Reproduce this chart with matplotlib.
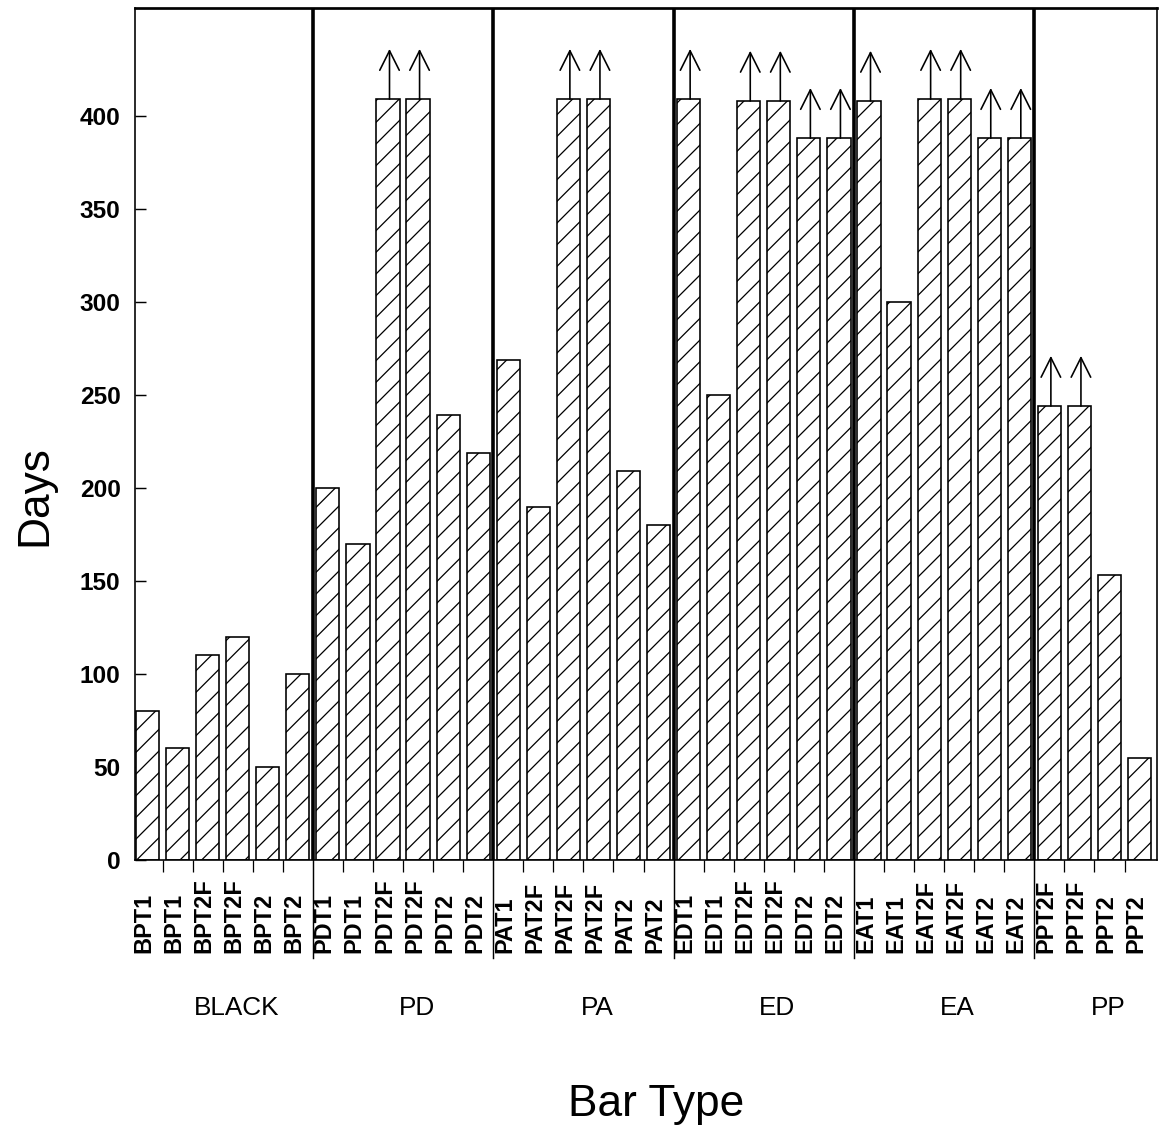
import matplotlib
matplotlib.use("Agg")
from matplotlib import pyplot as plt
from matplotlib import transforms

plt.rcParams['font.family'] = ['Liberation Sans', 'DejaVu Sans']
plt.rcParams['hatch.linewidth'] = 0.7

# data
groups = ['BLACK', 'PD', 'PA', 'ED', 'EA', 'PP']
bar_labels = [
    ['BPT1', 'BPT1', 'BPT2F', 'BPT2F', 'BPT2', 'BPT2'],
    ['PDT1', 'PDT1', 'PDT2F', 'PDT2F', 'PDT2', 'PDT2'],
    ['PAT1', 'PAT2F', 'PAT2F', 'PAT2F', 'PAT2', 'PAT2'],
    ['EDT1', 'EDT1', 'EDT2F', 'EDT2F', 'EDT2', 'EDT2'],
    ['EAT1', 'EAT1', 'EAT2F', 'EAT2F', 'EAT2', 'EAT2'],
    ['PPT2F', 'PPT2F', 'PPT2', 'PPT2'],
]
days = [
    [80, 60, 110, 120, 50, 100],
    [200, 170, 409, 409, 239, 219],
    [269, 190, 409, 409, 209, 180],
    [409, 250, 408, 408, 388, 388],
    [408, 300, 409, 409, 388, 388],
    [244, 244, 153, 55],
]
# 1 = still running at end of test (arrow)
censored = [
    [0, 0, 0, 0, 0, 0],
    [0, 0, 1, 1, 0, 0],
    [0, 0, 1, 1, 0, 0],
    [1, 0, 1, 1, 1, 1],
    [1, 0, 1, 1, 1, 1],
    [1, 1, 0, 0],
]
yticks = [0, 50, 100, 150, 200, 250, 300, 350, 400]

fig = plt.figure(figsize=(1161 / 130, 1131 / 130), dpi=130)
ax = fig.add_axes([135 / 1161, (1131 - 860) / 1131, (1157 - 135) / 1161, (860 - 8) / 1131])

labels = [l for g in bar_labels for l in g]
values = [v for g in days for v in g]
arrows = [c for g in censored for c in g]
xs = list(range(len(values)))

ax.bar(xs, values, width=0.77, color='white', edgecolor='black', linewidth=0.9,
       hatch='//', zorder=2)

for x, v, a in zip(xs, values, arrows):
    if a:
        ax.annotate('', xy=(x + 0.05, v + 27), xytext=(x + 0.05, v),
                    arrowprops=dict(arrowstyle='->,head_length=0.9,head_width=0.45',
                                    mutation_scale=12, lw=0.9, color='black',
                                    shrinkA=0, shrinkB=0))

ax.set_xlim(-0.416, len(values) - 0.42)
ax.set_ylim(0, 458)

# group separators
trans = transforms.blended_transform_factory(ax.transData, ax.transAxes)
bounds = []
start = 0
centers = []
for g in days:
    centers.append(start + (len(g) - 1) / 2)
    start += len(g)
    bounds.append(start - 0.5)
bounds = bounds[:-1]
for b in bounds:
    ax.axvline(b, color='black', lw=2.0, zorder=3)
    ax.plot([b, b], [0, -0.115], color='black', lw=0.8, transform=trans, clip_on=False)

# small ticks between bars
gaps = [x + 0.5 for x in xs[:-1] if x + 0.5 not in bounds]
ax.set_xticks(gaps, minor=True)
ax.set_xticks([])
ax.tick_params(axis='x', which='minor', direction='out', length=6.5, width=0.7)

for x, lab in zip(xs, labels):
    ax.text(x - 0.12, -0.109, lab, transform=trans, rotation=90, ha='center',
            va='bottom', fontsize=13, fontweight='bold')

for c, g in zip(centers, groups):
    ax.text(c + 0.45, -0.174, g, transform=trans, ha='center', va='center', fontsize=14.5)

ax.set_yticks(yticks)
ax.set_yticklabels([str(t) for t in yticks], fontsize=13.5, fontweight='bold')
ax.tick_params(axis='y', direction='in', length=6, width=0.8, pad=8)

for s in ax.spines.values():
    s.set_linewidth(0.9)
ax.spines['top'].set_linewidth(1.5)

fig.text(0.030, 0.562, 'Days', rotation=90, ha='center', va='center', fontsize=24.5)
fig.text(0.565, 0.023, 'Bar Type', ha='center', va='center', fontsize=24.5)

fig.savefig('out.png', dpi=130)
